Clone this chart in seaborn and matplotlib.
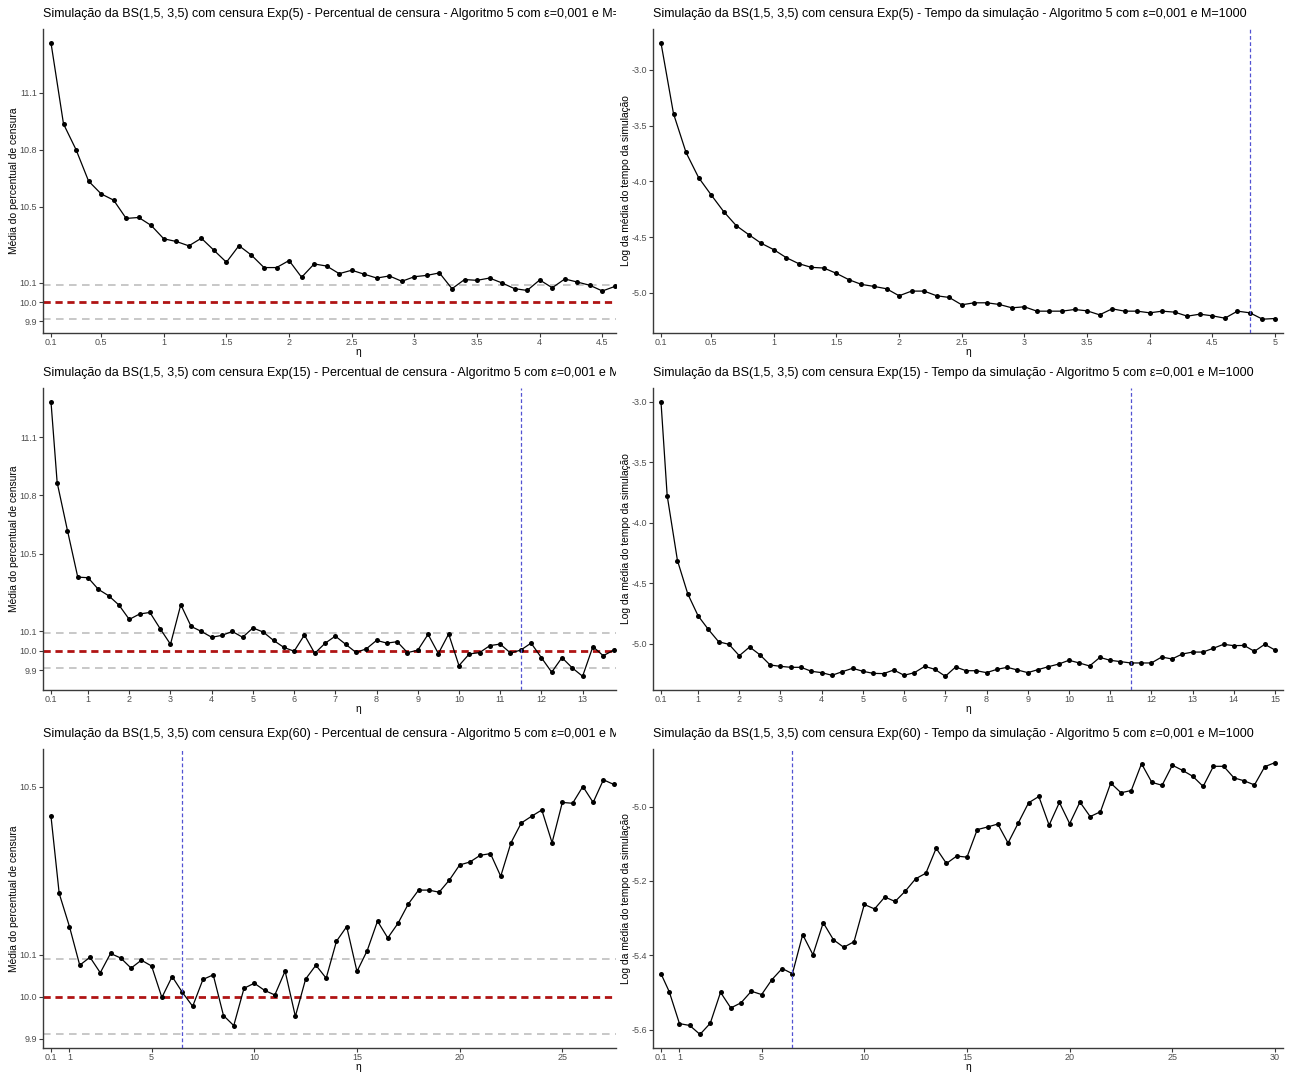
import numpy as np
import pandas as pd
import matplotlib
matplotlib.use("Agg")
import matplotlib.pyplot as plt
from matplotlib.transforms import Bbox, TransformedBbox
import seaborn as sns

sns.set_style("ticks")
plt.rcParams["font.family"] = ["Liberation Sans", "DejaVu Sans"]

# ---------------- data ----------------
# eta grids of the three scenarios
eta_exp5 = [round(0.1 * k, 1) for k in range(1, 51)]
eta_exp15 = [0.1] + [0.25 * k for k in range(1, 61)]
eta_exp60 = [0.1] + [0.5 * k for k in range(1, 61)]

# mean censoring percentage
cens_exp5 = [11.361, 10.935, 10.800, 10.635, 10.568, 10.535, 10.439, 10.444, 10.402, 10.332,
             10.318, 10.295, 10.335, 10.272, 10.209, 10.296, 10.246, 10.181, 10.181, 10.218,
             10.130, 10.200, 10.189, 10.149, 10.167, 10.146, 10.126, 10.137, 10.109, 10.133,
             10.140, 10.153, 10.070, 10.118, 10.114, 10.126, 10.100, 10.070, 10.061, 10.116,
             10.075, 10.121, 10.105, 10.088, 10.058, 10.082, 10.090, 10.070, 10.100, 10.080]

cens_exp15 = [11.283, 10.866, 10.619, 10.379, 10.376, 10.316, 10.283, 10.235, 10.161, 10.189,
              10.197, 10.113, 10.033, 10.237, 10.125, 10.099, 10.069, 10.079, 10.099, 10.069,
              10.117, 10.096, 10.053, 10.017, 9.997, 10.081, 9.986, 10.038, 10.075, 10.033,
              9.991, 10.009, 10.053, 10.039, 10.046, 9.990, 10.002, 10.084, 9.985, 10.086,
              9.923, 9.983, 9.990, 10.026, 10.034, 9.988, 10.003, 10.039, 9.964, 9.889,
              9.964, 9.911, 9.868, 10.021, 9.974, 10.002, 10.030, 9.970, 10.010, 9.950, 10.020]

cens_exp60 = [10.430, 10.246, 10.167, 10.075, 10.094, 10.057, 10.103, 10.092, 10.068, 10.087,
              10.073, 9.998, 10.048, 10.010, 9.977, 10.041, 10.052, 9.955, 9.931, 10.020,
              10.032, 10.015, 10.004, 10.061, 9.953, 10.042, 10.075, 10.044, 10.132, 10.167,
              10.060, 10.110, 10.180, 10.140, 10.175, 10.221, 10.254, 10.254, 10.249, 10.278,
              10.314, 10.321, 10.337, 10.341, 10.287, 10.367, 10.414, 10.430, 10.445, 10.367,
              10.463, 10.461, 10.501, 10.463, 10.517, 10.506, 10.490, 10.530, 10.510, 10.558, 10.540]

# log of mean simulation time
time_exp5 = [-2.757, -3.393, -3.741, -3.966, -4.121, -4.271, -4.397, -4.478, -4.556, -4.613,
             -4.685, -4.739, -4.772, -4.778, -4.826, -4.883, -4.925, -4.943, -4.964, -5.027,
             -4.985, -4.985, -5.027, -5.042, -5.108, -5.090, -5.090, -5.105, -5.135, -5.126,
             -5.165, -5.165, -5.165, -5.150, -5.162, -5.198, -5.144, -5.165, -5.165, -5.180,
             -5.165, -5.174, -5.210, -5.192, -5.207, -5.228, -5.165, -5.180, -5.237, -5.231]

time_exp15 = [-3.000, -3.775, -4.313, -4.588, -4.769, -4.882, -4.984, -5.005, -5.099, -5.027,
              -5.091, -5.176, -5.187, -5.195, -5.195, -5.228, -5.239, -5.261, -5.231, -5.203,
              -5.228, -5.245, -5.247, -5.217, -5.261, -5.239, -5.187, -5.212, -5.269, -5.192,
              -5.223, -5.223, -5.239, -5.212, -5.195, -5.217, -5.239, -5.214, -5.190, -5.168,
              -5.137, -5.159, -5.184, -5.113, -5.137, -5.148, -5.159, -5.159, -5.159, -5.110,
              -5.126, -5.085, -5.069, -5.069, -5.038, -5.005, -5.016, -5.014, -5.063, -5.005, -5.052]

time_exp60 = [-5.449, -5.497, -5.583, -5.588, -5.612, -5.582, -5.499, -5.541, -5.527, -5.496,
              -5.505, -5.465, -5.435, -5.449, -5.344, -5.398, -5.312, -5.358, -5.378, -5.363,
              -5.263, -5.275, -5.243, -5.255, -5.227, -5.194, -5.179, -5.112, -5.153, -5.133,
              -5.136, -5.062, -5.055, -5.047, -5.098, -5.044, -4.990, -4.973, -5.050, -4.989,
              -5.046, -4.988, -5.027, -5.014, -4.937, -4.963, -4.957, -4.885, -4.935, -4.943,
              -4.889, -4.903, -4.919, -4.946, -4.892, -4.892, -4.923, -4.931, -4.942, -4.893, -4.882]

# chosen eta per scenario
eta_opt = {"5": 4.8, "15": 11.5, "60": 6.5}

# reference levels for the censoring percentage
cens_target = 10.0
cens_band = (9.91, 10.09)

# axis breaks
xticks_exp5 = [0.1, 0.5, 1, 1.5, 2, 2.5, 3, 3.5, 4, 4.5, 5]
xticks_exp15 = [0.1] + list(range(1, 16))
xticks_exp60 = [0.1, 1, 5, 10, 15, 20, 25, 30]
yticks_cens = [9.9, 10.0, 10.1, 10.5, 10.8, 11.1]
yticks_cens60 = [9.9, 10.0, 10.1, 10.5]
yticks_time = [-5.0, -4.5, -4.0, -3.5, -3.0]
yticks_time60 = [-5.6, -5.4, -5.2, -5.0]

scenarios = [
    ("5", eta_exp5, cens_exp5, time_exp5, xticks_exp5, yticks_cens, yticks_time),
    ("15", eta_exp15, cens_exp15, time_exp15, xticks_exp15, yticks_cens, yticks_time),
    ("60", eta_exp60, cens_exp60, time_exp60, xticks_exp60, yticks_cens60, yticks_time60),
]

# ---------------- layout (pixels) ----------------
W, H = 1293, 1073
fig = plt.figure(figsize=(W / 100, H / 100), dpi=100)
fig.patch.set_facecolor("white")

rows = [(29, 333), (388, 690), (749, 1048)]
LEFT_X0, LEFT_CUT, LEFT_FULL = 43, 616, 673
RIGHT_X0, RIGHT_X1 = 653, 1283

TITLE_FS = 9.0
AXT_FS = 7.4
TICK_FS = 6.5
TICK_COLOR = "#4D4D4D"
AXIS_COLOR = "#3a3a3a"
VLINE_COLOR = "#5252d2"


def expand(lo, hi, frac):
    pad = (hi - lo) * frac
    return lo - pad, hi + pad


def add_ax(x0, x1, y0, y1):
    return fig.add_axes([x0 / W, 1 - y1 / H, (x1 - x0) / W, (y1 - y0) / H])


def style_ax(ax, xt, xtl, yt, ytl):
    sns.despine(ax=ax)
    for s in ("left", "bottom"):
        ax.spines[s].set_color(AXIS_COLOR)
        ax.spines[s].set_linewidth(1.0)
    ax.set_xticks(xt)
    ax.set_xticklabels(xtl)
    ax.set_yticks(yt)
    ax.set_yticklabels(ytl)
    ax.tick_params(axis="both", length=2.8, width=0.8, color=AXIS_COLOR,
                   labelsize=TICK_FS, labelcolor=TICK_COLOR)
    ax.tick_params(axis="x", pad=0.8)
    ax.tick_params(axis="y", pad=1.5)
    ax.set_xlabel("")
    ax.set_ylabel("")
    ax.set_facecolor("white")
    ax.grid(False)


def draw_series(ax, eta, vals):
    df = pd.DataFrame({"eta": eta, "valor": vals})
    sns.lineplot(data=df, x="eta", y="valor", ax=ax, color="black", linewidth=0.9,
                 marker="o", markersize=3.6, markeredgewidth=0, zorder=3)


def xlab(label_x_center, bottom):
    fig.text(label_x_center / W, 1 - (bottom + 19) / H, "\u03b7", ha="center", va="center",
             fontsize=AXT_FS, color="black")


xt_str = lambda ticks: [("%g" % t) for t in ticks]
yt_str = lambda ticks: [("%.1f" % t) for t in ticks]

left_clip = TransformedBbox(Bbox([[0, 0], [LEFT_CUT / W, 1]]), fig.transFigure)

for (key, eta, cens, tempo, xt, yt_c, yt_t), (top, bottom) in zip(scenarios, rows):
    xlo, xhi = expand(min(eta), max(eta), 0.013)

    # ---- censoring percentage (left column, cut at the right edge) ----
    axL = add_ax(LEFT_X0, LEFT_CUT, top, bottom)
    axL.axhline(cens_band[0], color="#C4C4C4", linewidth=1.3, dashes=(4.2, 3.0), zorder=1)
    axL.axhline(cens_band[1], color="#C4C4C4", linewidth=1.3, dashes=(4.2, 3.0), zorder=1)
    axL.axhline(cens_target, color="#B01414", linewidth=2.0, dashes=(2.6, 1.7), zorder=2)
    draw_series(axL, eta, cens)
    axL.axvline(eta_opt[key], color=VLINE_COLOR, linewidth=0.9, dashes=(3, 2), zorder=4)
    style_ax(axL, xt, xt_str(xt), yt_c, yt_str(yt_c))
    clo = min(min(cens), cens_band[0])
    chi = max(max(cens), cens_band[1])
    axL.set_ylim(*expand(clo, chi, 0.05))
    frac = (LEFT_CUT - LEFT_X0) / (LEFT_FULL - LEFT_X0)
    axL.set_xlim(xlo, xlo + (xhi - xlo) * frac)

    t = fig.text(LEFT_X0 / W, 1 - (top - 15) / H,
                 f"Simulação da BS(1,5, 3,5) com censura Exp({key}) - Percentual de censura - "
                 "Algoritmo 5 com \u03b5=0,001 e M=1000",
                 ha="left", va="center", fontsize=TITLE_FS, color="black")
    t.set_clip_box(left_clip)
    t.set_clip_on(True)
    fig.text(14 / W, 1 - (top + bottom) / 2 / H, "Média do percentual de censura",
             rotation=90, ha="center", va="center", fontsize=AXT_FS, color="black")
    xlab((LEFT_X0 + LEFT_FULL) / 2, bottom)

    # ---- simulation time (right column) ----
    axR = add_ax(RIGHT_X0, RIGHT_X1, top, bottom)
    draw_series(axR, eta, tempo)
    axR.axvline(eta_opt[key], color=VLINE_COLOR, linewidth=0.9, dashes=(3, 2), zorder=4)
    style_ax(axR, xt, xt_str(xt), yt_t, yt_str(yt_t))
    axR.set_ylim(*expand(min(tempo), max(tempo), 0.05))
    axR.set_xlim(xlo, xhi)

    fig.text(RIGHT_X0 / W, 1 - (top - 15) / H,
             f"Simulação da BS(1,5, 3,5) com censura Exp({key}) - Tempo da simulação - "
             "Algoritmo 5 com \u03b5=0,001 e M=1000",
             ha="left", va="center", fontsize=TITLE_FS, color="black")
    fig.text(626 / W, 1 - (top + bottom) / 2 / H, "Log da média do tempo da simulação",
             rotation=90, ha="center", va="center", fontsize=AXT_FS, color="black")
    xlab((RIGHT_X0 + RIGHT_X1) / 2, bottom)

fig.savefig("out.png", dpi=100, facecolor="white")
